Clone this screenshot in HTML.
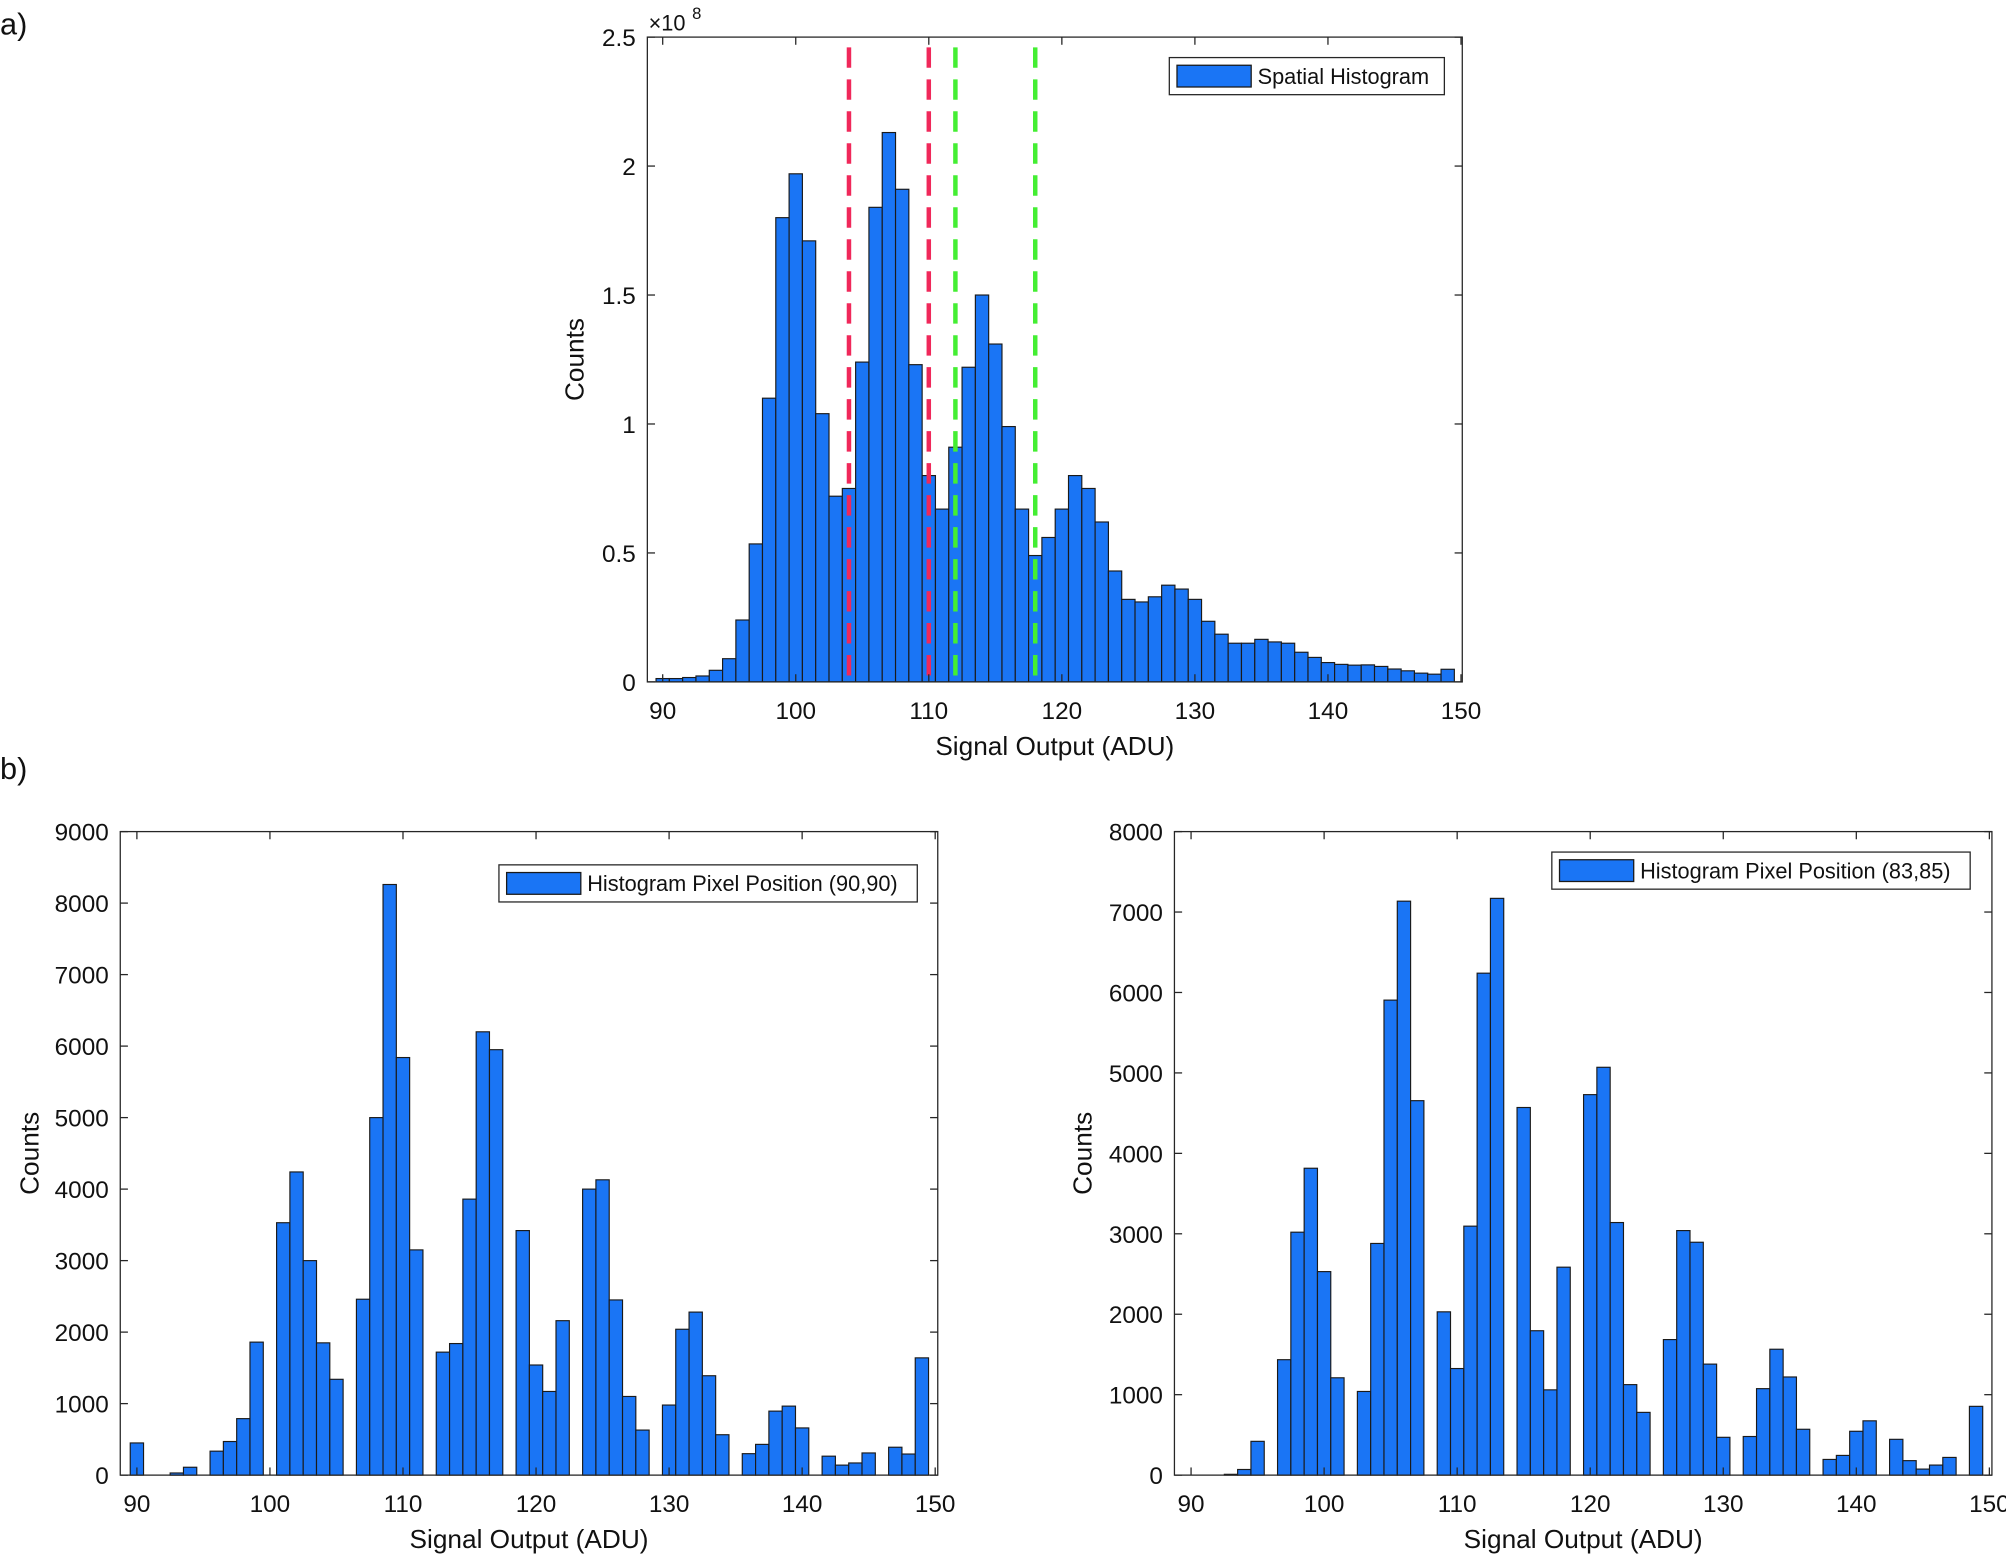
<!DOCTYPE html>
<html><head><meta charset="utf-8"><style>
html,body{margin:0;padding:0;background:#fff;}
svg{display:block;}
text{font-family:"Liberation Sans",Arial,sans-serif;fill:#111;}
</style></head><body>
<svg id="s" width="2006" height="1557" viewBox="0 0 1568 1217" preserveAspectRatio="none" xmlns="http://www.w3.org/2000/svg">
<rect width="1568" height="1217" fill="#fff"/>
<text x="0" y="27" font-size="24">a)</text>
<text x="0" y="609" font-size="24">b)</text>
</svg>
<script>
(function(){
const S=document.getElementById('s');const NS='http://www.w3.org/2000/svg';
function el(t,a,txt){const e=document.createElementNS(NS,t);for(const k in a)e.setAttribute(k,a[k]);if(txt!==undefined)e.textContent=txt;S.appendChild(e);return e;}
function chart(o){
 const L=o.L,R=o.R,T=o.T,B=o.B,x90=o.x90,ymax=o.ymax;
 const sx=v=>x90+(v-90)*((o.x150-x90)/60);
 const sy=v=>B-(v/ymax)*(B-T);
 o.data.forEach((v,i)=>{const c=90+i;if(v<=0)return;const x0=sx(c-0.5),x1=sx(c+0.5);
  el('rect',{x:x0,y:sy(v),width:x1-x0,height:B-sy(v),fill:'#1a75f5',stroke:'#1a1a1a','stroke-width':0.9});});
 if(o.extra)o.extra(sx,sy);
 el('rect',{x:L,y:T,width:R-L,height:B-T,fill:'none',stroke:'#262626','stroke-width':1});
 for(let v=90;v<=150;v+=10){const x=sx(v);
  el('line',{x1:x,y1:B,x2:x,y2:B-6,stroke:'#262626'});el('line',{x1:x,y1:T,x2:x,y2:T+6,stroke:'#262626'});
  el('text',{x:x,y:B+29,'font-size':19,'text-anchor':'middle'},String(v));}
 o.yticks.forEach((v,i)=>{const y=sy(v);
  el('line',{x1:L,y1:y,x2:L+6,y2:y,stroke:'#262626'});el('line',{x1:R,y1:y,x2:R-6,y2:y,stroke:'#262626'});
  el('text',{x:L-9,y:y+7,'font-size':19,'text-anchor':'end'},o.ylabels[i]);});
 el('text',{x:(L+R)/2,y:B+57,'font-size':20.5,'text-anchor':'middle'},'Signal Output (ADU)');
 el('text',{x:0,y:0,'font-size':20.5,'text-anchor':'middle',transform:'translate('+o.ylx+','+((T+B)/2)+') rotate(-90)'},'Counts');
 const g=o.leg;el('rect',{x:g[0],y:g[1],width:g[2],height:g[3],fill:'#fff',stroke:'#262626'});
 el('rect',{x:g[0]+6,y:g[1]+6,width:58,height:g[3]-12,fill:'#1a75f5',stroke:'#1a1a1a'});
 el('text',{x:g[0]+69,y:g[1]+g[3]/2+6,'font-size':17},g[4]);
}
const topData=[.013,.013,.017,.023,.045,.09,.24,.535,1.10,1.80,1.97,1.71,1.04,.72,.75,1.24,1.84,2.13,1.91,1.23,.80,.67,.91,1.22,1.50,1.31,.99,.67,.49,.56,.67,.80,.75,.62,.43,.32,.31,.33,.375,.36,.32,.235,.185,.15,.15,.165,.155,.15,.115,.095,.075,.068,.065,.066,.06,.05,.043,.034,.03,.049];
chart({L:506,R:1143,T:29,B:533,x90:518,x150:1142,ymax:2.5,yticks:[0,.5,1,1.5,2,2.5],ylabels:['0','0.5','1','1.5','2','2.5'],data:topData,ylx:456,
 leg:[914,45,215,29,'Spatial Histogram'],
 extra:(sx,sy)=>{[[104,'#f0285a'],[110,'#f0285a'],[112,'#44ee33'],[118,'#44ee33']].forEach(function(p){
  el('line',{x1:sx(p[0]),y1:37,x2:sx(p[0]),y2:533,stroke:p[1],'stroke-width':3.5,'stroke-dasharray':'16,9'});});}});
el('text',{x:507,y:24,'font-size':17},'×10');el('text',{x:541,y:15,'font-size':13},'8');
const bl=[450,0,0,30,110,0,335,470,790,1860,0,3530,4240,3000,1850,1340,0,2460,5000,8260,5840,3150,0,1720,1840,3860,6200,5950,0,3420,1540,1170,2160,0,4000,4130,2450,1100,630,0,980,2040,2280,1390,565,0,300,430,895,965,660,0,265,140,170,310,0,390,295,1640];
chart({L:94,R:733,T:650,B:1153,x90:107,x150:731,ymax:9000,yticks:[0,1000,2000,3000,4000,5000,6000,7000,8000,9000],ylabels:['0','1000','2000','3000','4000','5000','6000','7000','8000','9000'],data:bl,ylx:30,
 leg:[390,676,327,29,'Histogram Pixel Position (90,90)']});
const br=[0,0,0,10,70,420,0,1435,3020,3815,2530,1210,0,1040,2880,5905,7135,4655,0,2030,1325,3095,6240,7170,0,4570,1795,1060,2585,0,4730,5070,3140,1125,780,0,1685,3040,2895,1380,470,0,480,1075,1565,1220,570,0,195,245,545,675,0,445,180,75,125,220,0,855];
chart({L:918,R:1557,T:650,B:1153,x90:931,x150:1555,ymax:8000,yticks:[0,1000,2000,3000,4000,5000,6000,7000,8000],ylabels:['0','1000','2000','3000','4000','5000','6000','7000','8000'],data:br,ylx:853,
 leg:[1213,666,327,29,'Histogram Pixel Position (83,85)']});
})();
</script>
</body></html>
